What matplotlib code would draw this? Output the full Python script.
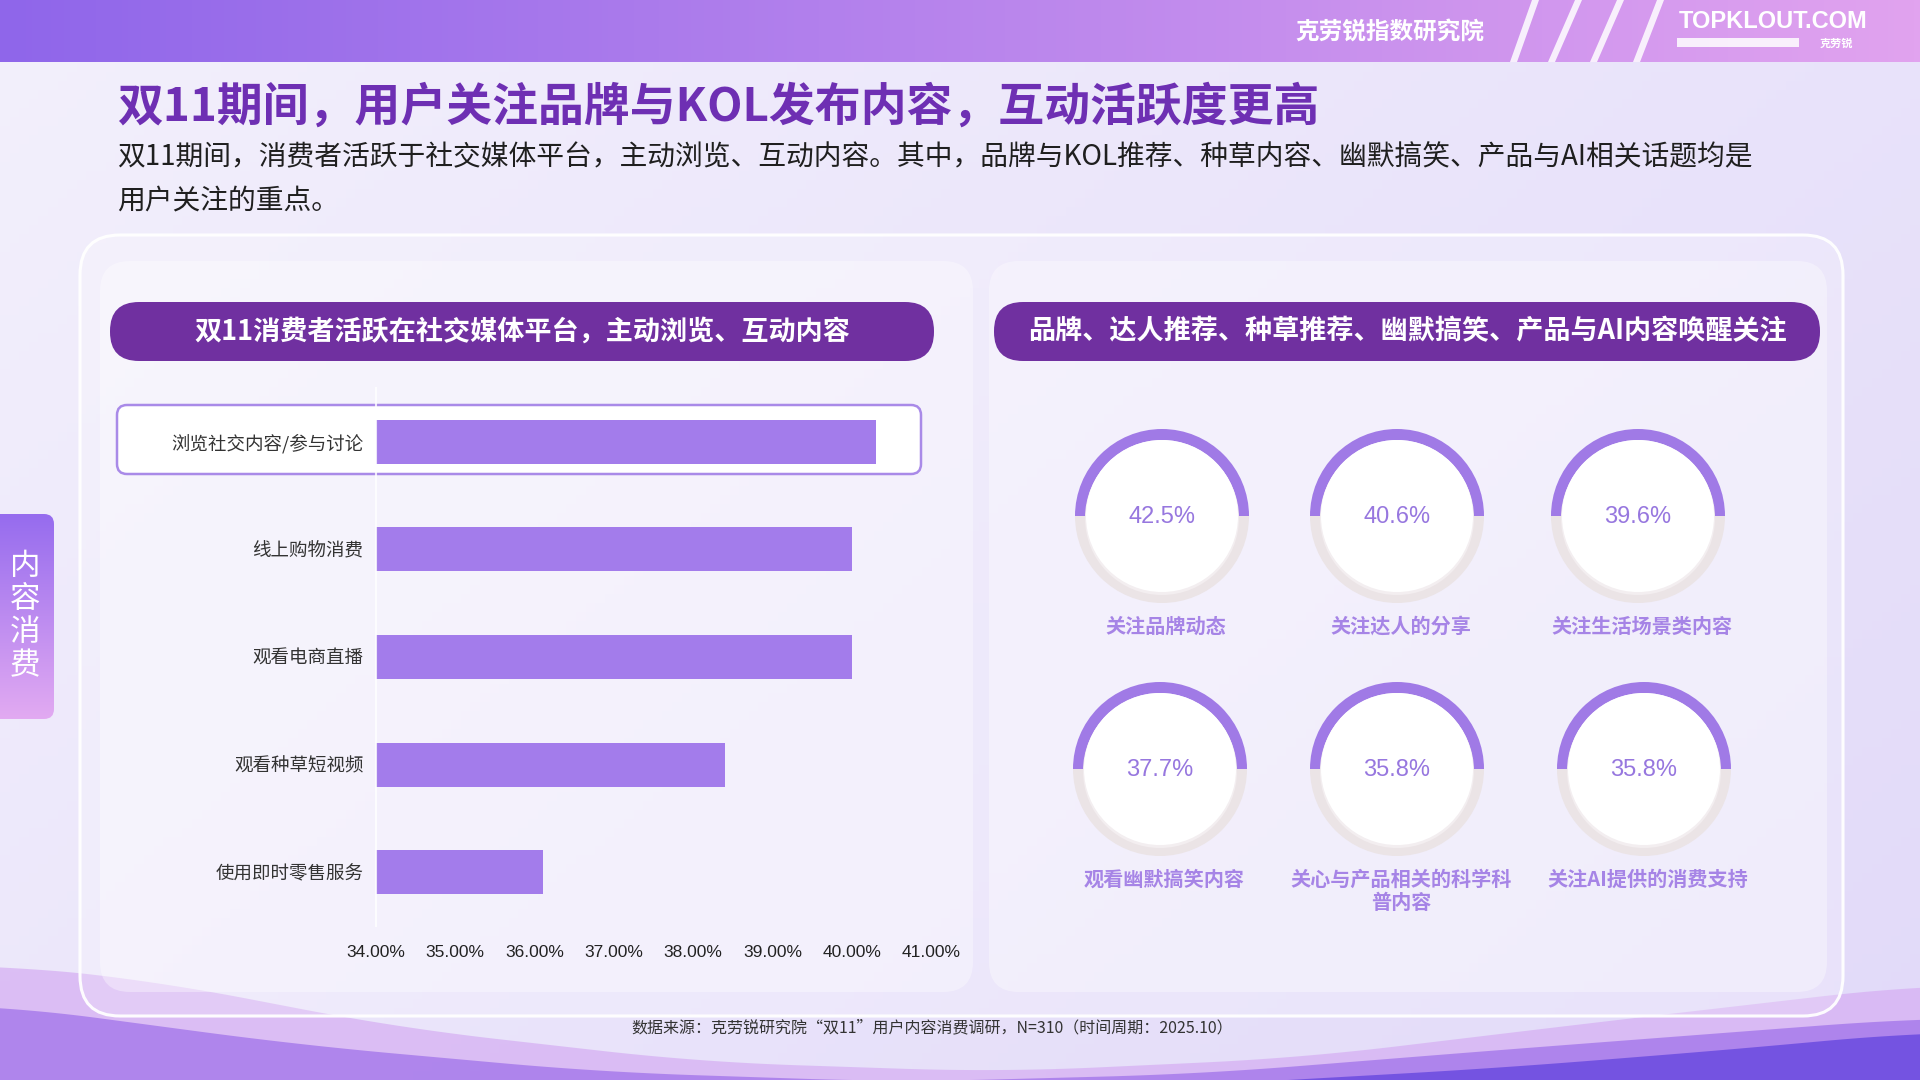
import numpy as np
import matplotlib
matplotlib.use("Agg")
import matplotlib.pyplot as plt
from matplotlib.patches import FancyBboxPatch, Wedge, Circle, Polygon

plt.rcParams["font.family"] = ["Noto Sans CJK SC", "DejaVu Sans"]

# data
categories = ["浏览社交内容/参与讨论", "线上购物消费", "观看电商直播", "观看种草短视频", "使用即时零售服务"]
shares = [40.3, 40.0, 40.0, 38.4, 36.1]
x_ticks = [34, 35, 36, 37, 38, 39, 40, 41]

focus_labels = ["关注品牌动态", "关注达人的分享", "关注生活场景类内容",
                "观看幽默搞笑内容", "关心与产品相关的科学科\n普内容", "关注AI提供的消费支持"]
focus_values = [42.5, 40.6, 39.6, 37.7, 35.8, 35.8]

title = "双11期间，用户关注品牌与KOL发布内容，互动活跃度更高"
subtitle = ["双11期间，消费者活跃于社交媒体平台，主动浏览、互动内容。其中，品牌与KOL推荐、种草内容、幽默搞笑、产品与AI相关话题均是",
            "用户关注的重点。"]
left_header = "双11消费者活跃在社交媒体平台，主动浏览、互动内容"
right_header = "品牌、达人推荐、种草推荐、幽默搞笑、产品与AI内容唤醒关注"
source = "数据来源：克劳锐研究院“双11”用户内容消费调研，N=310（时间周期：2025.10）"

W, H = 1920, 1080
fig = plt.figure(figsize=(19.2, 10.8), dpi=100)
bg = fig.add_axes([0, 0, 1, 1])
bg.set_xlim(0, W)
bg.set_ylim(H, 0)
bg.axis("off")

# page background
gx = np.linspace(0, 1, 200)
gy = np.linspace(0, 1, 120)
GX, GY = np.meshgrid(gx, gy)
c0 = np.array([243, 240, 252]) / 255
c1 = np.array([226, 218, 249]) / 255
t = (0.6 * GX + 0.4 * GY)[..., None]
bg.imshow(c0 * (1 - t) + c1 * t, extent=(0, W, H, 0), aspect="auto", zorder=0)

# header band
hc0 = np.array([143, 102, 234]) / 255
hc1 = np.array([225, 163, 239]) / 255
ht = np.linspace(0, 1, 300)[None, :, None]
bg.imshow(hc0 * (1 - ht) + hc1 * ht, extent=(0, W, 62, 0), aspect="auto", zorder=1)
for xt, xb in [(1532, 1510), (1575, 1548), (1617, 1590), (1657, 1633)]:
    bg.add_patch(Polygon([(xt, 0), (xt + 7, 0), (xb + 7, 62), (xb, 62)],
                         closed=True, color="white", alpha=0.85, lw=0, zorder=2))
bg.text(1390, 32, "克劳锐指数研究院", color="white", fontsize=17, fontweight="bold",
        ha="center", va="center", zorder=3)
bg.text(1773, 21, "TOPKLOUT.COM", color="white", fontsize=17, fontweight="bold",
        family=["Liberation Sans", "DejaVu Sans"], ha="center", va="center", zorder=3)
bg.add_patch(plt.Rectangle((1677, 38), 122, 9, color="white", alpha=0.85, lw=0, zorder=3))
bg.text(1836, 43, "克劳锐", color="white", fontsize=8, fontweight="bold",
        ha="center", va="center", zorder=3)

# bottom waves
xs = np.linspace(0, W, 400)
def curve(pts):
    px, py = zip(*pts)
    y = np.interp(xs, px, py)
    k = np.ones(41) / 41
    return np.convolve(np.pad(y, 20, mode="edge"), k, mode="valid")

top_a = curve([(0, 965), (150, 980), (400, 1028), (700, 1062), (1000, 1072),
               (1300, 1058), (1600, 1022), (1920, 985)])
top_b = curve([(0, 1005), (300, 1045), (600, 1072), (900, 1082), (1200, 1074),
               (1500, 1050), (1920, 1018)])
top_c = curve([(0, 1085), (1200, 1085), (1500, 1068), (1750, 1048), (1920, 1032)])
bg.fill_between(xs, top_a, H, color="#d6b0f3", alpha=0.75, lw=0, zorder=1)
bg.fill_between(xs, top_b, H, color="#a477ea", alpha=0.8, lw=0, zorder=1)
bg.fill_between(xs, top_c, H, color="#6a4be0", alpha=0.85, lw=0, zorder=1)

# title and subtitle
bg.text(117, 108, title, color="#6e2fb3", fontsize=33, fontweight="bold",
        ha="left", va="center", zorder=3)
bg.text(117, 157, subtitle[0], color="#1f1f1f", fontsize=20, ha="left", va="center", zorder=3)
bg.text(117, 200, subtitle[1], color="#1f1f1f", fontsize=20, ha="left", va="center", zorder=3)

# side tab
tab = FancyBboxPatch((-20, 514), 74, 205, boxstyle="round,pad=0,rounding_size=10",
                     lw=0, facecolor="none", zorder=2)
bg.add_patch(tab)
tc0 = np.array([150, 108, 238]) / 255
tc1 = np.array([226, 170, 242]) / 255
tt = np.linspace(0, 1, 100)[:, None, None]
im = bg.imshow(np.repeat(tc0 * (1 - tt) + tc1 * tt, 2, axis=1),
               extent=(-20, 54, 719, 514), aspect="auto", zorder=2)
im.set_clip_path(tab)
bg.text(25, 616, "内\n容\n消\n费", color="white", fontsize=22, ha="center", va="center",
        linespacing=1.08, zorder=3)

# panels
bg.add_patch(FancyBboxPatch((80, 235), 1763, 781, boxstyle="round,pad=0,rounding_size=40",
                            facecolor=(1, 1, 1, 0.22), edgecolor=(1, 1, 1, 0.95), lw=2.2, zorder=2))
for x0, w in [(100, 873), (989, 838)]:
    bg.add_patch(FancyBboxPatch((x0, 261), w, 731, boxstyle="round,pad=0,rounding_size=30",
                                facecolor=(1, 1, 1, 0.35), edgecolor="none", zorder=2))

# pill headers
for x0, w, txt in [(110, 824, left_header), (994, 826, right_header)]:
    bg.add_patch(FancyBboxPatch((x0, 302), w, 59, boxstyle="round,pad=0,rounding_size=29",
                                facecolor="#7030a0", edgecolor="none", zorder=3))
    bg.text(x0 + w / 2, 331.5, txt, color="white", fontsize=19.5, fontweight="bold",
            ha="center", va="center", zorder=4)

# highlight box behind first bar
bg.add_patch(FancyBboxPatch((117, 405), 804, 69, boxstyle="round,pad=0,rounding_size=10",
                            facecolor="white", edgecolor="#a98ae8", lw=1.8, zorder=3))

# bar chart
ax = fig.add_axes([376 / W, 1 - 926 / H, 555 / W, 538 / H])
ax.patch.set_alpha(0)
y = np.arange(len(categories))
ax.barh(y, shares, height=0.41, color="#a37ceb", zorder=2)
ax.set_xlim(x_ticks[0], x_ticks[-1])
ax.set_ylim(len(categories) - 0.5, -0.5)
ax.set_xticks(x_ticks)
ax.set_xticklabels([f"{v:.2f}%" for v in x_ticks], fontsize=12.5, color="#222222",
                   family=["Liberation Sans", "DejaVu Sans"])
ax.set_yticks(y)
ax.set_yticklabels(categories, fontsize=13.3, color="#333333")
ax.tick_params(length=0)
ax.tick_params(axis="y", pad=9)
ax.tick_params(axis="x", pad=14)
for s in ["top", "right", "bottom"]:
    ax.spines[s].set_visible(False)
ax.spines["left"].set_color((1, 1, 1, 0.8))
ax.spines["left"].set_linewidth(1.5)

# donut gauges
centers = [(1162, 516), (1397, 516), (1638, 516), (1160, 769), (1397, 769), (1644, 769)]
for (cx, cy), lab, val in zip(centers, focus_labels, focus_values):
    bg.add_patch(Wedge((cx, cy), 87, 0, 180, width=11, facecolor="#ebe4e6",
                       edgecolor="none", zorder=4))
    bg.add_patch(Wedge((cx, cy), 87, 180, 360, width=11, facecolor="#a07ae6",
                       edgecolor="none", zorder=4))
    bg.add_patch(Circle((cx, cy + 2), 77, facecolor="#f3eef0", edgecolor="none", zorder=4))
    bg.add_patch(Circle((cx, cy), 76, facecolor="white", edgecolor="none", zorder=4))
    bg.text(cx, cy + 1, f"{val:.1f}%", color="#9777df", fontsize=17, ha="center", va="center",
            family=["Liberation Sans", "DejaVu Sans"], zorder=5)
    bg.text(cx + 4, cy + 100, lab, color="#a684e6", fontsize=14.5, fontweight="bold",
            ha="center", va="top", linespacing=1.1, zorder=5)

# source
bg.text(932, 1028, source, color="#333333", fontsize=11.5, ha="center", va="center", zorder=5)

fig.savefig("out.png", dpi=100)
plt.close(fig)
